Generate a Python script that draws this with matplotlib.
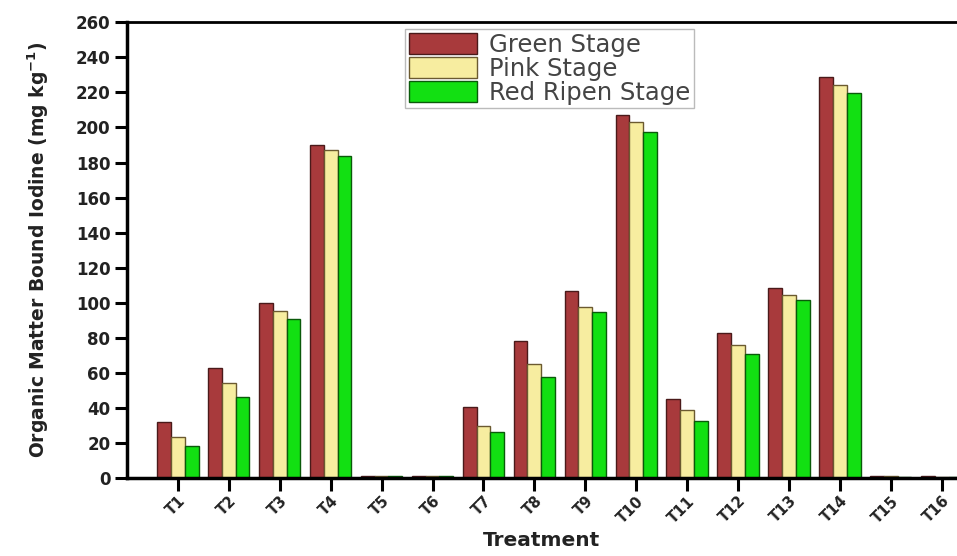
import matplotlib
matplotlib.use('Agg')
import matplotlib.pyplot as plt
import numpy as np

# 数据
treatments = ['T1', 'T2', 'T3', 'T4', 'T5', 'T6', 'T7', 'T8',
              'T9', 'T10', 'T11', 'T12', 'T13', 'T14', 'T15', 'T16']
green_stage = [32, 63, 100, 190, 1.5, 1.5, 40.5, 78, 107, 207, 45, 83, 108.5, 228.5, 1.2, 1.0]
pink_stage = [23.5, 54, 95.5, 187, 1.5, 1.5, 29.5, 65, 97.5, 203, 39, 76, 104.5, 224, 1.0, 0.8]
red_ripen_stage = [18.5, 46.5, 91, 184, 1.5, 1.5, 26.5, 57.5, 94.5, 197.5, 32.5, 71, 101.5, 219.5, 0.8, 0.6]

plt.rcParams['font.family'] = ['DejaVu Sans']

fig = plt.figure(figsize=(9.57, 5.56), dpi=100)
ax = fig.add_axes([0.1327, 0.140, 0.8673, 0.820])

x = np.arange(1, len(treatments) + 1)
w = 0.27
ax.bar(x - w, green_stage, w, color='#a83a3c', edgecolor='#4a1a1a', linewidth=1, label='Green Stage')
ax.bar(x, pink_stage, w, color='#f7eda0', edgecolor='#6b5a30', linewidth=1, label='Pink Stage')
ax.bar(x + w, red_ripen_stage, w, color='#12e012', edgecolor='#0a5a0a', linewidth=1, label='Red Ripen Stage')

ax.set_xlim(0, 16.3)
ax.set_ylim(0, 260)
ax.set_yticks(np.arange(0, 261, 20))
ax.set_xticks(x)
ax.set_xticklabels(treatments, rotation=45, ha='right', rotation_mode='anchor',
                   fontweight='bold', fontsize=10.5, color='#222222')
for lab in ax.get_yticklabels():
    lab.set_fontweight('bold')
    lab.set_fontsize(12)
    lab.set_color('#222222')

ax.spines['right'].set_visible(False)
ax.spines['left'].set_linewidth(2.5)
ax.spines['bottom'].set_linewidth(2.5)
ax.spines['top'].set_linewidth(2)
ax.tick_params(axis='both', direction='out', length=9, width=2.2, color='black')
ax.tick_params(axis='x', pad=2)
ax.tick_params(axis='y', pad=3)

ax.set_xlabel('Treatment', fontsize=14.5, fontweight='bold', color='#222222', labelpad=4)
ax.set_ylabel('Organic Matter Bound Iodine (mg kg$^{\\mathbf{-1}}$)', fontsize=13.5,
              fontweight='bold', color='#222222', labelpad=18)

leg = ax.legend(loc='upper left', bbox_to_anchor=(0.335, 0.985), fontsize=17.5,
                handlelength=2.8, handleheight=0.95, labelspacing=0.0,
                borderpad=0.15, handletextpad=0.5, borderaxespad=0,
                fancybox=False, framealpha=1, edgecolor='#bbbbbb')
for t in leg.get_texts():
    t.set_color('#444444')

fig.savefig('out.png', dpi=100, facecolor='white')
